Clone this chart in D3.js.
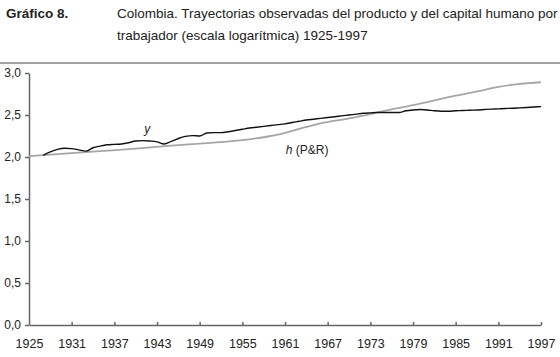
<!DOCTYPE html>
<meta charset="utf-8">
<style>
body { margin: 0; background: #fff; }
svg text { font-family: "Liberation Sans", Arial, sans-serif; fill: #222; }
.axis path, .axis line { stroke: #666; stroke-width: 1.5; }
</style>
<body>
<svg id="chart" width="560" height="357"></svg>
<script src="https://d3js.org/d3.v7.min.js"></script>
<script>
// producto por trabajador (y), escala log
var yYears = d3.range(1927, 1998);
var yValues = [2.02, 2.06, 2.09, 2.105, 2.10, 2.085, 2.07, 2.11, 2.13, 2.145,
  2.15, 2.155, 2.17, 2.19, 2.195, 2.19, 2.18, 2.155, 2.185, 2.22,
  2.245, 2.255, 2.25, 2.285, 2.29, 2.29, 2.30, 2.315, 2.33, 2.345,
  2.355, 2.365, 2.375, 2.385, 2.395, 2.41, 2.425, 2.44, 2.45, 2.46,
  2.47, 2.48, 2.49, 2.50, 2.51, 2.52, 2.525, 2.53, 2.53, 2.53,
  2.53, 2.55, 2.56, 2.565, 2.56, 2.55, 2.545, 2.545, 2.55, 2.553,
  2.557, 2.56, 2.565, 2.57, 2.573, 2.577, 2.58, 2.585, 2.59, 2.595, 2.60];

// capital humano por trabajador h (P&R)
var hYears = [1925, 1930, 1935, 1940, 1945, 1950, 1955, 1958, 1960, 1963, 1966,
  1970, 1974, 1977, 1980, 1985, 1988, 1991, 1994, 1997];
var hValues = [2.01, 2.04, 2.07, 2.10, 2.135, 2.165, 2.20, 2.235, 2.265, 2.335, 2.40,
  2.46, 2.53, 2.585, 2.635, 2.73, 2.78, 2.835, 2.87, 2.89];

var xTicks = d3.range(1925, 1998, 6);
var yTicks = [0, 0.5, 1, 1.5, 2, 2.5, 3];

var svg = d3.select("#chart");

// encabezado
svg.append("text").attr("x", 6).attr("y", 18)
  .style("font-size", "13.5px").style("font-weight", "bold")
  .text("Gráfico 8.");
svg.append("text").attr("x", 117).attr("y", 18)
  .style("font-size", "13.5px")
  .text("Colombia. Trayectorias observadas del producto y del capital humano por");
svg.append("text").attr("x", 117).attr("y", 40)
  .style("font-size", "13.5px")
  .text("trabajador (escala logarítmica) 1925-1997");
svg.append("line").attr("x1", 0).attr("x2", 560).attr("y1", 63).attr("y2", 63)
  .attr("stroke", "#444").attr("stroke-width", 1);

var x = d3.scaleLinear().domain([1925, 1997]).range([29, 541]);
var y = d3.scaleLinear().domain([0, 3]).range([325, 73]);

var gx = svg.append("g").attr("class", "axis")
  .attr("transform", "translate(0,325)")
  .call(d3.axisBottom(x).tickValues(xTicks).tickFormat(d3.format("d"))
    .tickSizeInner(-3).tickSizeOuter(0).tickPadding(14));
gx.selectAll("text").style("font-size", "12.5px").attr("fill", "#222");
gx.selectAll(".tick").filter(function(d) { return d === 1925; }).select("line").remove();

var gy = svg.append("g").attr("class", "axis")
  .attr("transform", "translate(29,0)")
  .call(d3.axisLeft(y).tickValues(yTicks)
    .tickFormat(function(d) { return d3.format(".1f")(d).replace(".", ","); })
    .tickSizeInner(4).tickSizeOuter(0).tickPadding(4));
gy.selectAll("text").style("font-size", "12px").attr("fill", "#222");

var line = d3.line().curve(d3.curveMonotoneX)
  .x(function(d) { return x(d[0]); })
  .y(function(d) { return y(d[1]); });

svg.append("path")
  .datum(d3.zip(hYears, hValues))
  .attr("fill", "none").attr("stroke", "#a6a6a6").attr("stroke-width", 1.8)
  .attr("d", line);

svg.append("path")
  .datum(d3.zip(yYears, yValues))
  .attr("fill", "none").attr("stroke", "#111").attr("stroke-width", 1.4)
  .attr("d", line);

// rótulos de las series
svg.append("text").attr("x", x(1941.2)).attr("y", y(2.29))
  .style("font-size", "12px").style("font-style", "italic").text("y");
var hl = svg.append("text").attr("x", x(1961.1)).attr("y", y(2.03))
  .style("font-size", "12px");
hl.append("tspan").style("font-style", "italic").text("h");
hl.append("tspan").text(" (P&R)");
</script>
</body>
